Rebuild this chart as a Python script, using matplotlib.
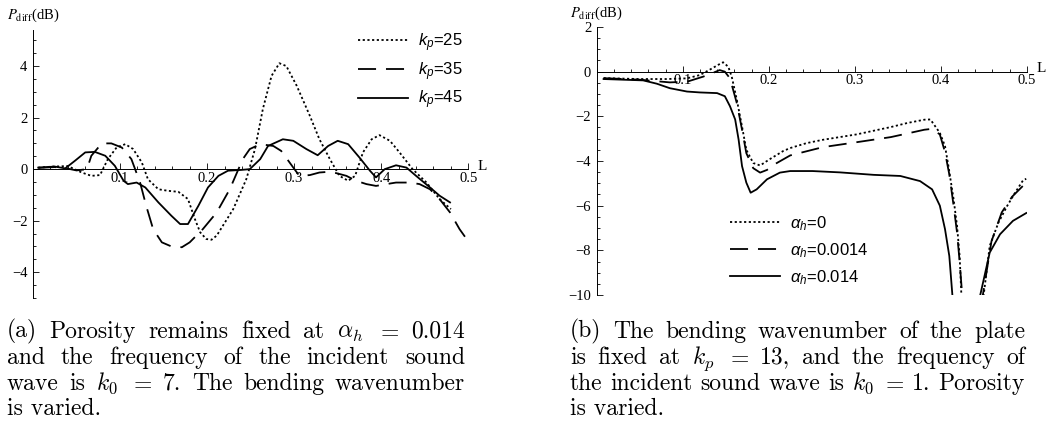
import matplotlib
matplotlib.use('Agg')
import matplotlib.pyplot as plt
from matplotlib.ticker import MultipleLocator
from matplotlib.font_manager import FontProperties
import numpy as np

plt.rcParams['mathtext.fontset'] = 'custom'
plt.rcParams['mathtext.rm'] = 'Liberation Sans'
plt.rcParams['mathtext.it'] = 'Liberation Sans:italic'
plt.rcParams['mathtext.bf'] = 'Liberation Sans:bold'

# ---- panel (a): alpha_h = 0.014, k0 = 7, k_p varied ----
x_kp25 = [0.006, 0.023, 0.040, 0.056, 0.067, 0.077, 0.086, 0.096, 0.106, 0.115,
          0.125, 0.132, 0.144, 0.155, 0.167, 0.178, 0.186, 0.192, 0.199, 0.205,
          0.211, 0.230, 0.245, 0.255, 0.264, 0.274, 0.283, 0.291, 0.303, 0.318,
          0.329, 0.341, 0.352, 0.362, 0.370, 0.379, 0.389, 0.398, 0.410, 0.421,
          0.436, 0.452, 0.467, 0.480]
y_kp25 = [0.06, 0.10, 0.12, -0.13, -0.26, -0.23, 0.39, 0.84, 0.97, 0.78,
          0.26, -0.39, -0.78, -0.84, -0.88, -1.16, -1.94, -2.45, -2.71, -2.74,
          -2.58, -1.55, -0.39, 0.78, 2.33, 3.62, 4.11, 4.00, 3.23, 2.07,
          1.16, 0.39, -0.26, -0.45, -0.26, 0.65, 1.16, 1.32, 1.10, 0.65,
          0.00, -0.52, -1.16, -1.55]

x_kp35 = [0.006, 0.025, 0.040, 0.050, 0.062, 0.067, 0.079, 0.090, 0.102, 0.113,
          0.123, 0.130, 0.138, 0.148, 0.159, 0.171, 0.180, 0.195, 0.211, 0.226,
          0.241, 0.249, 0.261, 0.276, 0.285, 0.299, 0.306, 0.318, 0.329, 0.341,
          0.349, 0.360, 0.371, 0.383, 0.394, 0.406, 0.417, 0.433, 0.444, 0.456,
          0.467, 0.479, 0.490, 0.4995]
y_kp35 = [0.05, 0.08, 0.02, -0.05, 0.00, 0.52, 1.00, 1.00, 0.84, 0.39,
          -0.52, -1.42, -2.33, -2.84, -3.00, -3.03, -2.84, -2.33, -1.68, -0.78,
          0.39, 0.78, 0.97, 0.90, 0.71, 0.06, -0.26, -0.23, -0.13, -0.10,
          -0.16, -0.26, -0.45, -0.58, -0.65, -0.58, -0.52, -0.52, -0.58, -0.78,
          -1.16, -1.68, -2.33, -2.78]

x_kp45 = [0.006, 0.025, 0.037, 0.048, 0.060, 0.071, 0.083, 0.094, 0.104, 0.109,
          0.119, 0.129, 0.144, 0.159, 0.169, 0.178, 0.190, 0.201, 0.213, 0.224,
          0.239, 0.249, 0.261, 0.270, 0.287, 0.299, 0.314, 0.327, 0.339, 0.350,
          0.362, 0.375, 0.387, 0.394, 0.404, 0.417, 0.429, 0.440, 0.456, 0.467,
          0.479]
y_kp45 = [0.06, 0.10, 0.03, 0.32, 0.65, 0.67, 0.52, 0.13, -0.45, -0.58,
          -0.52, -0.71, -1.29, -1.81, -2.13, -2.13, -1.42, -0.71, -0.26, -0.06,
          -0.03, 0.00, 0.39, 0.90, 1.16, 1.10, 0.78, 0.54, 0.90, 1.10,
          0.97, 0.45, -0.06, -0.32, 0.00, 0.15, 0.06, -0.26, -0.71, -1.03,
          -1.29]

# ---- panel (b): k_p = 13, k0 = 1, porosity varied ----
# values below -10 run off the plot (resonance near L = 0.43)
x_a0 = [0.008, 0.050, 0.081, 0.105, 0.120, 0.132, 0.141, 0.147, 0.153, 0.157,
        0.163, 0.169, 0.174, 0.182, 0.190, 0.202, 0.217, 0.225, 0.244, 0.263,
        0.302, 0.342, 0.361, 0.381, 0.388, 0.399, 0.405, 0.409, 0.415, 0.419,
        0.422, 0.424, 0.428, 0.437, 0.446, 0.450, 0.457, 0.467, 0.477, 0.486,
        0.496, 0.4995]
y_a0 = [-0.29, -0.33, -0.33, -0.30, -0.15, 0.10, 0.30, 0.42, 0.22, -0.22,
        -1.27, -2.46, -3.50, -4.09, -4.20, -3.90, -3.55, -3.42, -3.20, -3.05,
        -2.81, -2.48, -2.30, -2.15, -2.14, -2.74, -3.33, -4.23, -5.71, -6.90,
        -8.25, -9.96, -13.0, np.nan, -13.0, -10.0, -7.80, -6.77, -6.03, -5.45,
        -4.85, -4.80]

x_a0014 = [0.008, 0.050, 0.085, 0.105, 0.124, 0.136, 0.143, 0.149, 0.155, 0.163,
           0.169, 0.174, 0.182, 0.190, 0.198, 0.209, 0.225, 0.263, 0.302, 0.342,
           0.381, 0.390, 0.399, 0.405, 0.410, 0.415, 0.419, 0.422, 0.425, 0.428,
           0.437, 0.446, 0.449, 0.459, 0.471, 0.483, 0.496, 0.4995]
y_a0014 = [-0.29, -0.36, -0.48, -0.45, -0.22, -0.04, 0.07, 0.00, -0.30, -1.42,
           -2.60, -3.65, -4.32, -4.52, -4.40, -4.10, -3.75, -3.38, -3.16, -2.93,
           -2.60, -2.56, -2.81, -3.60, -4.60, -6.00, -7.20, -8.50, -10.0, -13.0,
           np.nan, -13.0, -10.0, -7.60, -6.30, -5.60, -5.10, -5.05]

x_a014 = [0.008, 0.031, 0.054, 0.070, 0.085, 0.105, 0.120, 0.140, 0.149, 0.155,
          0.161, 0.165, 0.169, 0.174, 0.179, 0.186, 0.198, 0.213, 0.225, 0.251,
          0.283, 0.322, 0.353, 0.376, 0.390, 0.399, 0.405, 0.410, 0.4135, 0.417,
          0.430, 0.443, 0.446, 0.457, 0.469, 0.484, 0.4995]
y_a014 = [-0.33, -0.36, -0.39, -0.54, -0.74, -0.89, -0.93, -0.96, -1.10, -1.55,
          -2.14, -3.04, -4.23, -4.97, -5.42, -5.27, -4.82, -4.52, -4.45, -4.45,
          -4.51, -4.62, -4.67, -4.90, -5.27, -6.00, -7.05, -8.25, -9.96, -13.0,
          np.nan, -13.0, -10.0, -8.10, -7.28, -6.68, -6.33]

labels_a = [r'$k_p$=25', r'$k_p$=35', r'$k_p$=45']
labels_b = [r'$\alpha_h$=0', r'$\alpha_h$=0.0014', r'$\alpha_h$=0.014']

caption_a = [["(a)", "Porosity", "remains", "fixed", "at", r"$\alpha_h$", "$=$", "0.014"],
             ["and", "the", "frequency", "of", "the", "incident", "sound"],
             ["wave", "is", r"$k_0$", "$=$", "7.", "The", "bending", "wavenumber"],
             "is varied."]
caption_b = [["(b)", "The", "bending", "wavenumber", "of", "the", "plate"],
             ["is", "fixed", "at", r"$k_p$", "$=$", "13,", "and", "the", "frequency", "of"],
             ["the", "incident", "sound", "wave", "is", r"$k_0$", "$=$", "1.", "Porosity"],
             "is varied."]

W, H = 1048, 423
fig = plt.figure(figsize=(W / 100, H / 100), dpi=100)


def px_box(x0, x1, ytop, ybot):
    return [x0 / W, 1 - ybot / H, (x1 - x0) / W, (ybot - ytop) / H]


dotted = (0, (1.2, 1.4))
dashed = (0, (10, 5.5))
lw = 1.3

tick_font = dict(family='Liberation Serif', size=10.5)


def style_axes(ax, ylim, ymajor):
    ax.set_xlim(0, 0.5)
    ax.set_ylim(*ylim)
    ax.spines['top'].set_visible(False)
    ax.spines['right'].set_visible(False)
    ax.spines['bottom'].set_position(('data', 0))
    for s in ('left', 'bottom'):
        ax.spines[s].set_linewidth(0.7)
    ax.set_xticks([0.1, 0.2, 0.3, 0.4, 0.5])
    ax.set_xticklabels(['0.1', '0.2', '0.3', '0.4', '0.5'])
    ax.xaxis.set_minor_locator(MultipleLocator(0.02))
    ax.set_yticks(ymajor)
    ax.set_yticklabels([str(v).replace('-', '\u2212') for v in ymajor])
    ax.yaxis.set_minor_locator(MultipleLocator(0.5))
    ax.tick_params(which='both', direction='in', width=0.6)
    ax.tick_params(which='major', length=4)
    ax.tick_params(which='minor', length=2)
    ax.tick_params(axis='x', pad=2)
    ax.tick_params(axis='y', pad=4)
    for lab in ax.get_xticklabels() + ax.get_yticklabels():
        lab.set_fontfamily(tick_font['family'])
        lab.set_fontsize(tick_font['size'])
    ax.patch.set_visible(False)


ax_a = fig.add_axes(px_box(33, 468.3, 30, 298))
style_axes(ax_a, (-5, 5.4), [-4, -2, 0, 2, 4])
ax_a.plot(x_kp25, y_kp25, color='black', lw=lw, ls=dotted, label=labels_a[0])
ax_a.plot(x_kp35, y_kp35, color='black', lw=lw, ls=dashed, label=labels_a[1])
ax_a.plot(x_kp45, y_kp45, color='black', lw=lw, ls='-', label=labels_a[2])

ax_b = fig.add_axes(px_box(596.7, 1026.7, 27, 295))
style_axes(ax_b, (-10, 2), [-10, -8, -6, -4, -2, 0, 2])
ax_b.plot(x_a0, y_a0, color='black', lw=lw, ls=dotted, label=labels_b[0])
ax_b.plot(x_a0014, y_a0014, color='black', lw=lw, ls=dashed, label=labels_b[1])
ax_b.plot(x_a014, y_a014, color='black', lw=lw, ls='-', label=labels_b[2])

leg_prop = FontProperties(family='Liberation Sans', size=12, math_fontfamily='custom')
for ax, (lx, ly, sp) in ((ax_a, (358, 31, 0.38)), (ax_b, (730, 214, 0.5))):
    ax.legend(loc='upper left', bbox_to_anchor=(lx / W, 1 - ly / H),
              bbox_transform=fig.transFigure, frameon=False, borderpad=0,
              borderaxespad=0, handlelength=3.0, handletextpad=0.6,
              labelspacing=sp, prop=leg_prop)

# axis titles
ylab = r'$P_{\rm diff}$(dB)'
fig.text(7 / W, 1 - 15 / H, ylab, family='Liberation Serif', math_fontfamily='stix',
         size=10.5, va='center', ha='left')
fig.text(570 / W, 1 - 13 / H, ylab, family='Liberation Serif', math_fontfamily='stix',
         size=10.5, va='center', ha='left')
fig.text(478 / W, 1 - 166 / H, 'L', family='Liberation Serif', size=11, va='center')
fig.text(1037 / W, 1 - 68 / H, 'L', family='Liberation Serif', size=11, va='center')

# justified captions
cap_kw = dict(family='cmr10', math_fontfamily='cm', size=17, va='baseline')
renderer = fig.canvas.get_renderer()


def caption(lines, x0, x1, baselines):
    for words, yb in zip(lines, baselines):
        y = 1 - yb / H
        if isinstance(words, str):
            fig.text(x0 / W, y, words, **cap_kw)
            continue
        texts = [fig.text(0, y, w, **cap_kw) for w in words]
        widths = [t.get_window_extent(renderer).width for t in texts]
        gap = (x1 - x0 - sum(widths)) / (len(words) - 1)
        x = x0
        for t, w in zip(texts, widths):
            t.set_x(x / W)
            x += w + gap


caption(caption_a, 7, 465, [337.5, 363.5, 389.5, 415])
caption(caption_b, 570, 1025, [337.5, 363.5, 389.5, 415])

fig.savefig('out.png', dpi=100)
